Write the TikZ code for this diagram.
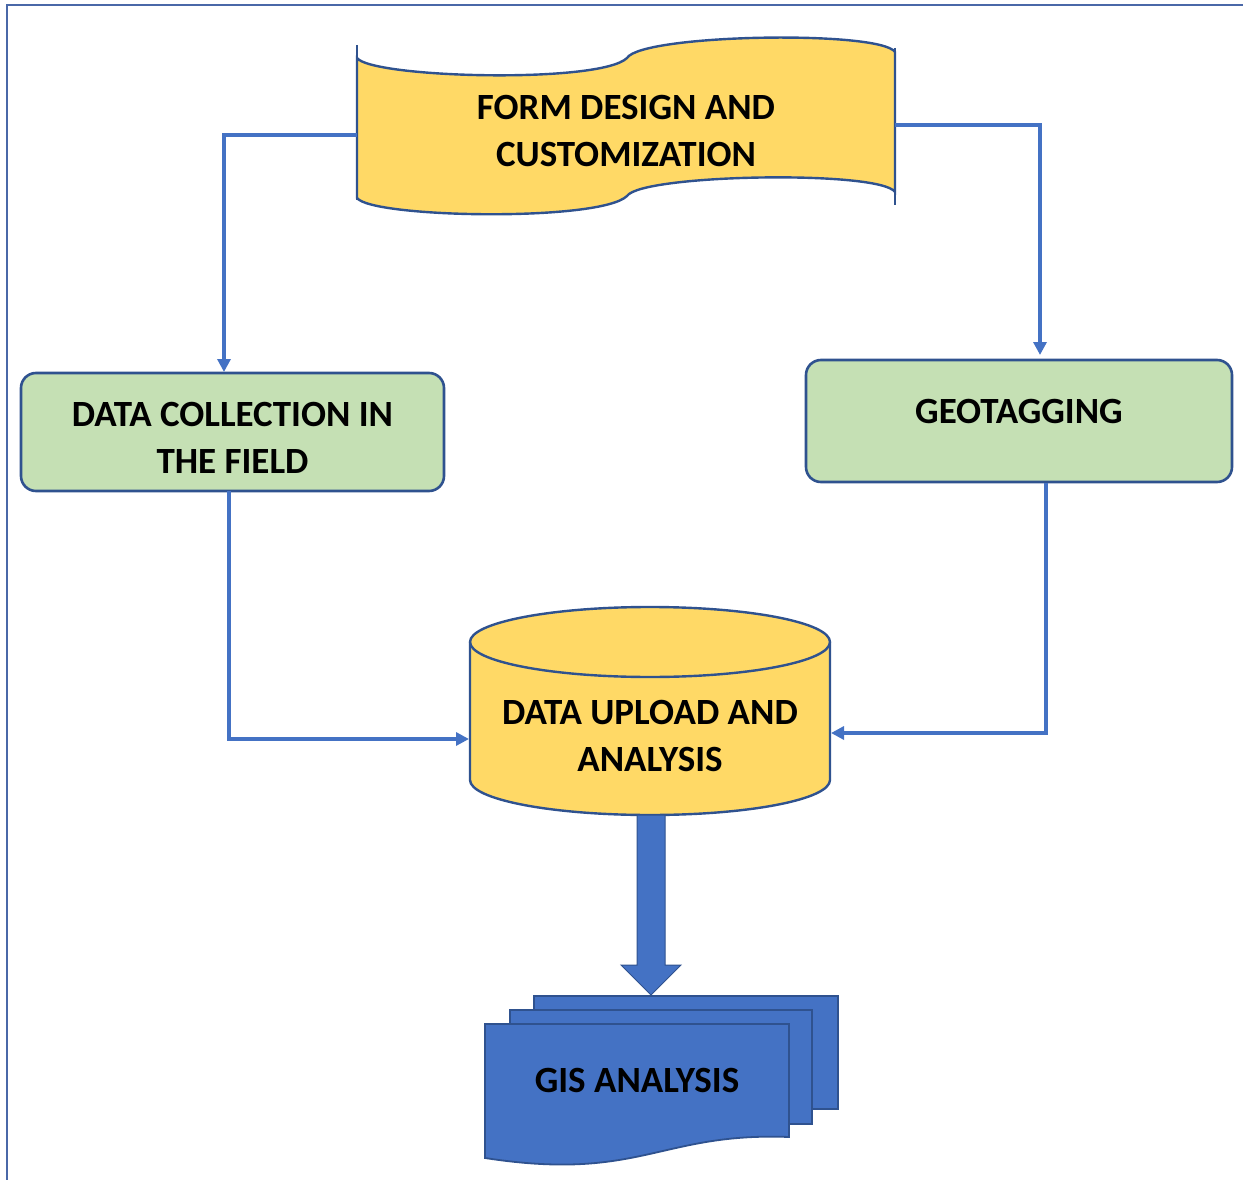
\documentclass[tikz,border=0pt]{standalone}
\usepackage{fontspec}
\setmainfont{Carlito}
\usetikzlibrary{arrows.meta}
\definecolor{fyellow}{HTML}{FFD966}
\definecolor{fgreen}{HTML}{C5E0B4}
\definecolor{fblue}{HTML}{4472C4}
\definecolor{fline}{HTML}{2F528F}
\definecolor{fframe}{HTML}{4A68A8}
\tikzset{
  lbl/.style={font=\fontsize{37}{47}\selectfont\bfseries, align=center, text=black},
  greenbox/.style={draw=fline, line width=2.6pt, fill=fgreen, rounded corners=15pt},
  conn/.style={draw=fblue, line width=3.2pt, -{Triangle[length=13pt,width=13pt]}},
  shapeline/.style={draw=fline, line width=2.4pt},
}
\begin{document}
\begin{tikzpicture}[x=1pt,y=-1pt]
\useasboundingbox (0,0) rectangle (1243,1180);
% frame
\draw[fframe, line width=2.6pt] (7,1180) -- (7,5) -- (1243,5);

% banner shape
\path[fill=fyellow, shapeline]
  (357,58) .. controls (372,78) and (600,84) .. (627,58)
  .. controls (642,34) and (880,30) .. (895,52)
  -- (895,192)
  .. controls (880,170) and (642,174) .. (627,196)
  .. controls (600,222) and (372,218) .. (357,198) -- cycle;
\draw[shapeline] (357,45) -- (357,200);
\draw[shapeline] (895,48) -- (895,205);
\node[minimum width=538pt, minimum height=150pt, inner sep=0pt] (form) at (626,130) {};
\node[lbl] (formtxt) at (626,131) {FORM DESIGN AND\\CUSTOMIZATION};

% green boxes
\node[greenbox, minimum width=423pt, minimum height=118pt, inner sep=0pt] (coll) at (232.5,432) {};
\node[lbl] (colltxt) at (232.5,438) {DATA COLLECTION IN\\THE FIELD};
\node[greenbox, minimum width=426pt, minimum height=122pt, inner sep=0pt] (geo) at (1019,421) {};
\node[lbl] (geotxt) at (1019,411) {GEOTAGGING};

% cylinder
\path[fill=fyellow, shapeline]
  (470,642) -- (470,780) arc[start angle=180, end angle=0, x radius=180, y radius=35]
  -- (830,642) arc[start angle=0, end angle=-180, x radius=180, y radius=35] -- cycle;
\draw[shapeline] (470,642) arc[start angle=180, end angle=0, x radius=180, y radius=35];
\node[minimum width=360pt, minimum height=208pt, inner sep=0pt] (db) at (650,711) {};
\node[lbl] (dbtxt) at (650,736) {DATA UPLOAD AND\\ANALYSIS};

% big arrow
\path[fill=fblue, draw=fline, line width=1pt]
  (637,815) -- (665,815) -- (665,965) -- (681,965) -- (651,995) -- (621,965) -- (637,965) -- cycle;

% multi-document
\path[fill=fblue, draw=fline, line width=1.8pt] (534,996) rectangle (838,1109);
\path[fill=fblue, draw=fline, line width=1.8pt] (510,1010) rectangle (812,1124);
\path[fill=fblue, draw=fline, line width=1.8pt]
  (485,1024) -- (789,1024) -- (789,1137)
  .. controls (660,1132) and (640,1182) .. (485,1158) -- cycle;
\node[minimum width=304pt, minimum height=136pt, inner sep=0pt] (gis) at (637,1090) {};
\node[lbl] (gistxt) at (637,1080) {GIS ANALYSIS};

% connectors
\coordinate (formL) at (357,135);
\coordinate (formR) at (895,125);
\coordinate (collTop) at (224,372);
\coordinate (geoTop) at (1040,355);
\coordinate (collBot) at (229,491);
\coordinate (geoBot) at (1046,483);
\coordinate (dbL) at (469,739);
\coordinate (dbR) at (831,733);
\draw[conn] (formL) -| (collTop);
\draw[conn] (formR) -| (geoTop);
\draw[conn] (collBot) |- (dbL);
\draw[conn] (geoBot) |- (dbR);
\end{tikzpicture}
\end{document}
